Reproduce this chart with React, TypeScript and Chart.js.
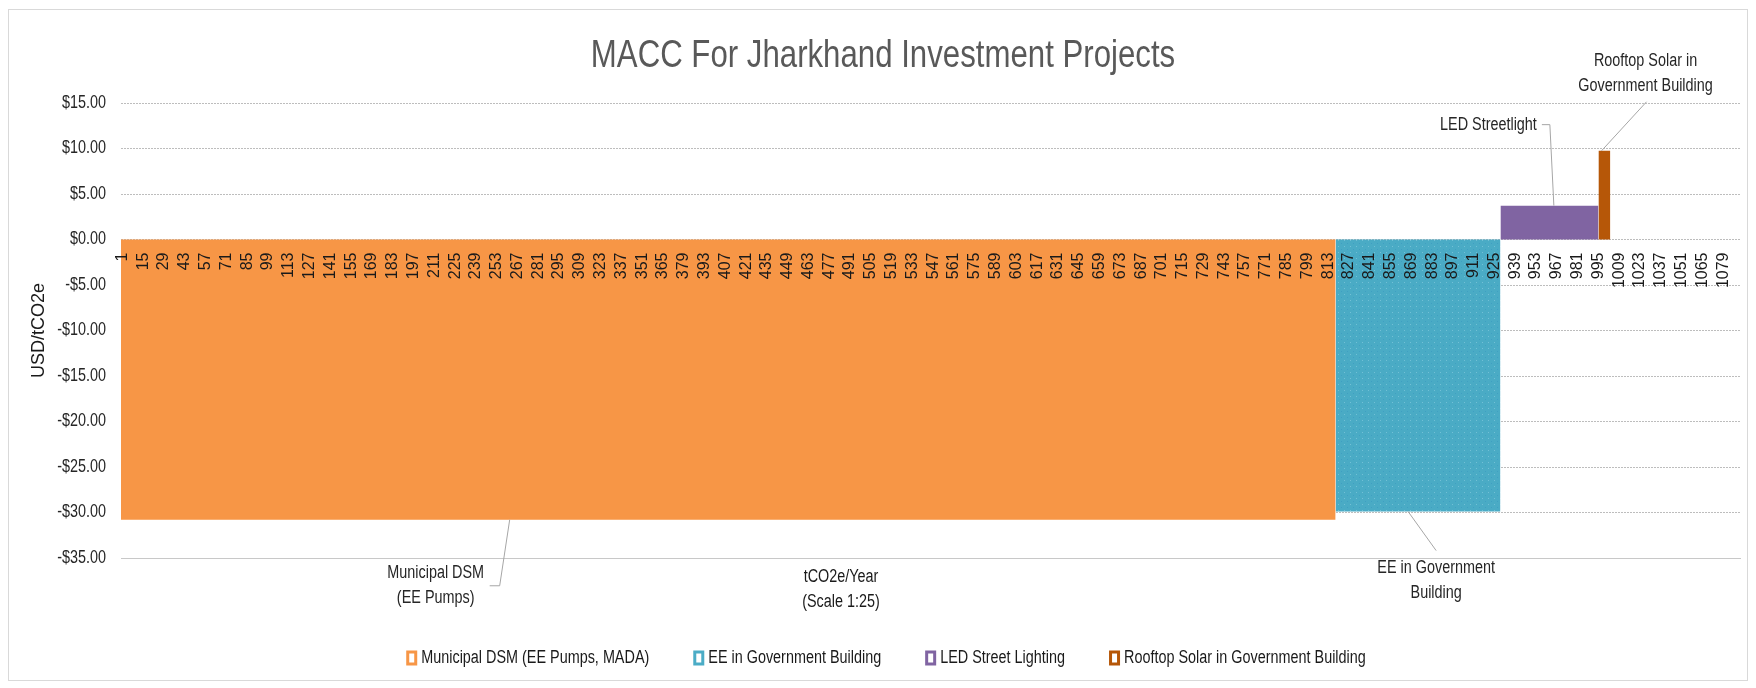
import { useEffect, useRef } from 'react';
import { Chart, registerables } from 'chart.js';

Chart.register(...registerables);

// ---------- data ----------
const projects = [
  'Municipal DSM (EE Pumps, MADA)',
  'EE in Government Building',
  'LED Street Lighting',
  'Rooftop Solar in Government Building',
];
const abatement = [818, 111, 66, 8]; // tCO2e/Year (scale 1:25)
const costs = [-30.8, -29.9, 3.72, 9.75]; // USD/tCO2e
const calloutText = [
  ['Municipal DSM', '(EE Pumps)'],
  ['EE in Government', 'Building'],
  ['LED Streetlight'],
  ['Rooftop Solar in', 'Government Building'],
];
const xTicks = [
  1, 15, 29, 43, 57, 71, 85, 99, 113, 127, 141, 155, 169, 183, 197, 211, 225, 239, 253, 267,
  281, 295, 309, 323, 337, 351, 365, 379, 393, 407, 421, 435, 449, 463, 477, 491, 505, 519, 533,
  547, 561, 575, 589, 603, 617, 631, 645, 659, 673, 687, 701, 715, 729, 743, 757, 771, 785, 799,
  813, 827, 841, 855, 869, 883, 897, 911, 925, 939, 953, 967, 981, 995, 1009, 1023, 1037, 1051,
  1065, 1079,
];
const xMax = 1091;
const yMin = -35;
const yMax = 15;
const yStep = 5;
const TITLE = 'MACC For Jharkhand Investment Projects';
const Y_TITLE = 'USD/tCO2e';
const X_TITLE = ['tCO2e/Year', '(Scale 1:25)'];

// ---------- styles ----------
const colors = ['#F79646', '#4BACC6', '#8064A2', '#B65708'];
const FONT = "'Liberation Sans', Arial, sans-serif";
const SX = 0.8; // horizontal condensing of text
const W = 1756;
const H = 688;
// callout geometry (pixel offsets from the anchor on each bar)
const calloutFrac = [0.32, 0.44, 0.545, 0.26];
const calloutPath = [
  [[-10, 66], [-20, 66]],
  [[28, 39]],
  [[-4, -81], [-12, -81]],
  [[45, -49]],
];
const calloutLabel: [number, number, CanvasTextAlign][] = [
  [-74, 53, 'center'],
  [28, 56, 'center'],
  [-17, -81, 'right'],
  [44, -90, 'center'],
];
const LINE_GAP = 25.5;

function fmtMoney(n: number) {
  return (n < 0 ? '-$' : '$') + Math.abs(n).toFixed(2);
}

function drawText(
  ctx: CanvasRenderingContext2D,
  text: string,
  x: number,
  y: number,
  align: CanvasTextAlign,
  size: number,
  color: string,
) {
  ctx.save();
  ctx.translate(x, y);
  ctx.scale(SX, 1);
  ctx.font = `${size}px ${FONT}`;
  ctx.fillStyle = color;
  ctx.textAlign = align;
  ctx.textBaseline = 'middle';
  ctx.fillText(text, 0, 0);
  ctx.restore();
}

function makeTealPattern(): CanvasPattern | string {
  const c = document.createElement('canvas');
  c.width = 6;
  c.height = 6;
  const g = c.getContext('2d');
  if (!g) return colors[1];
  g.fillStyle = '#4AABC5';
  g.fillRect(0, 0, 6, 6);
  g.fillStyle = '#72C0D6';
  g.fillRect(0, 0, 1, 1);
  g.fillStyle = '#3F9FC2';
  g.fillRect(3, 3, 1, 1);
  const p = g.createPattern(c, 'repeat');
  return p || colors[1];
}

export default function App() {
  const ref = useRef<HTMLCanvasElement | null>(null);

  useEffect(() => {
    const canvas = ref.current;
    if (!canvas) return;
    const teal = makeTealPattern();

    let start = 0;
    const datasets = projects.map((label, i) => {
      const x0 = start;
      const x1 = start + abatement[i];
      start = x1;
      return {
        label,
        data: [
          { x: x0, y: 0 },
          { x: x0, y: costs[i] },
          { x: x1, y: costs[i] },
          { x: x1, y: 0 },
        ],
        fill: 'origin',
        backgroundColor: i === 1 ? teal : colors[i],
        borderColor: 'rgba(0,0,0,0)',
        borderWidth: 0,
        pointRadius: 0,
        pointHoverRadius: 0,
        tension: 0,
      };
    });

    const overlay = {
      id: 'overlay',
      beforeDatasetsDraw(chart: any) {
        const { ctx, chartArea, scales } = chart;
        const yb = Math.round(scales.y.getPixelForValue(yMin)) + 0.5;
        ctx.save();
        ctx.strokeStyle = '#C8C8C8';
        ctx.lineWidth = 1;
        ctx.beginPath();
        ctx.moveTo(chartArea.left, yb);
        ctx.lineTo(chartArea.right, yb);
        ctx.stroke();
        ctx.restore();
      },
      afterDraw(chart: any) {
        const { ctx, chartArea, scales } = chart;
        const xs = scales.x;
        const ys = scales.y;
        ctx.save();
        // chart border
        ctx.strokeStyle = '#D9D9D9';
        ctx.lineWidth = 1;
        ctx.strokeRect(8.5, 9.5, W - 17, H - 17);

        // title
        drawText(ctx, TITLE, 883, 56, 'center', 39, '#595959');

        // y tick labels (drawn at the scale's own tick positions)
        ys.ticks.forEach((t: any) => {
          drawText(ctx, fmtMoney(t.value), chartArea.left - 15, ys.getPixelForValue(t.value), 'right', 18, '#262626');
        });

        // y axis title
        ctx.save();
        ctx.translate(39, (chartArea.top + chartArea.bottom) / 2);
        ctx.rotate(-Math.PI / 2);
        ctx.fillStyle = '#1a1a1a';
        ctx.font = `18px ${FONT}`;
        ctx.textAlign = 'center';
        ctx.textBaseline = 'middle';
        ctx.fillText(Y_TITLE, 0, 0);
        ctx.restore();

        // x axis title
        X_TITLE.forEach((t, k) => drawText(ctx, t, 841, 577 + k * LINE_GAP, 'center', 18, '#1a1a1a'));

        // callouts
        let s = 0;
        projects.forEach((_, i) => {
          const ax = xs.getPixelForValue(s + abatement[i] * calloutFrac[i]);
          const ay = ys.getPixelForValue(costs[i]);
          s += abatement[i];
          ctx.strokeStyle = '#A6A6A6';
          ctx.lineWidth = 1;
          ctx.beginPath();
          ctx.moveTo(ax, ay);
          calloutPath[i].forEach(([dx, dy]) => ctx.lineTo(ax + dx, ay + dy));
          ctx.stroke();
          const [lx, ly, align] = calloutLabel[i];
          calloutText[i].forEach((t, k) =>
            drawText(ctx, t, ax + lx, ay + ly + k * LINE_GAP, align, 18, '#262626'),
          );
        });

        // legend
        ctx.font = `18px ${FONT}`;
        const box = 11;
        const boxGap = 4;
        const itemGap = 44;
        const widths = projects.map((p) => box + boxGap + ctx.measureText(p).width * SX);
        const total = widths.reduce((a, b) => a + b, 0) + itemGap * (projects.length - 1);
        let lx = 886 - total / 2;
        const ly = 658;
        projects.forEach((p, i) => {
          ctx.fillStyle = '#ffffff';
          ctx.fillRect(lx, ly - 7.5, box, 15);
          ctx.strokeStyle = colors[i];
          ctx.lineWidth = 3;
          ctx.strokeRect(lx + 1.5, ly - 6, box - 3, 12);
          drawText(ctx, p, lx + box + boxGap, ly, 'left', 18, '#1a1a1a');
          lx += widths[i] + itemGap;
        });
        ctx.restore();
      },
    };

    const chart = new Chart(canvas, {
      type: 'line',
      data: { datasets: datasets as any },
      options: {
        responsive: false,
        animation: false,
        events: [],
        layout: { padding: { left: 0, right: 15, top: 103, bottom: 130 } },
        plugins: {
          legend: { display: false },
          title: { display: false },
          tooltip: { enabled: false },
        },
        scales: {
          x: {
            type: 'linear',
            position: { y: 0 } as any,
            min: 0,
            max: xMax,
            afterBuildTicks: (scale: any) => {
              scale.ticks = xTicks.map((v) => ({ value: v }));
            },
            ticks: {
              z: 1,
              autoSkip: false,
              minRotation: 90,
              maxRotation: 90,
              padding: 13,
              color: '#1a1a1a',
              font: { family: FONT, size: 16 },
              callback: (v: any) => String(v),
            },
            grid: { display: false, drawTicks: false },
            border: { display: false },
          },
          y: {
            type: 'linear',
            min: yMin,
            max: yMax,
            afterFit: (scale: any) => {
              scale.width = 121;
            },
            ticks: {
              display: false,
              stepSize: yStep,
              callback: (v: any) => fmtMoney(Number(v)),
            },
            grid: { color: '#BDBDBD', drawTicks: false, lineWidth: 1 },
            border: { display: false, dash: [2, 1] },
          },
        },
      },
      plugins: [overlay],
    });

    return () => chart.destroy();
  }, []);

  return (
    <canvas
      ref={ref}
      width={W}
      height={H}
      style={{ position: 'fixed', left: 0, top: 0, width: W, height: H, display: 'block', background: '#fff' }}
    />
  );
}
